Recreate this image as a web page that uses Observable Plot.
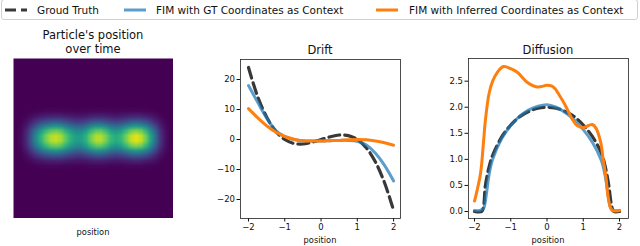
<!DOCTYPE html>
<html>
<head>
<meta charset="utf-8">
<script src="https://cdn.jsdelivr.net/npm/d3@7"></script>
<script src="https://cdn.jsdelivr.net/npm/@observablehq/plot@0.6"></script>
<style>
  html, body { margin: 0; padding: 0; background: #fff; }
  body { width: 640px; height: 246px; position: relative; overflow: hidden; font-family: "DejaVu Sans", sans-serif; color: #111; }
  .abs { position: absolute; }
  .title { font-size: 11.5px; text-align: center; white-space: nowrap; line-height: 13.5px; }
  .xlab { font-size: 8.3px; text-align: center; white-space: nowrap; line-height: 10px; }
  #legend { left: 1px; top: -1px; width: 635px; height: 19px; border: 1px solid #d0d0d0; border-radius: 3px; font-size: 10.5px; }
  .lg { position: absolute; top: 0; line-height: 20px; white-space: nowrap; }
</style>
</head>
<body>
<script>
// ---------- data ----------
const legendLabels = ["Groud Truth", "FIM with GT Coordinates as Context", "FIM with Inferred Coordinates as Context"];
const seriesColors = ["#222222", "#1f77b4", "#ff7f0e"];

// Heatmap (particle's position over time): column and row intensity profiles
const heatCols = [0, 0.03, 0.12, 0.3, 0.52, 0.7, 0.85, 0.95, 0.98, 0.93, 0.8, 0.68, 0.6, 0.6, 0.7, 0.85,
                  0.95, 0.95, 0.85, 0.72, 0.67, 0.72, 0.85, 0.98, 1.03, 0.98, 0.83, 0.6, 0.36, 0.14, 0.04, 0];
const heatRows = [0, 0, 0, 0, 0, 0, 0, 0, 0, 0, 0.02, 0.1, 0.28, 0.55, 0.85, 1,
                  1, 0.85, 0.55, 0.28, 0.1, 0.02, 0, 0, 0, 0, 0, 0, 0, 0, 0, 0];

// Drift
const driftX      = [-2, -1.75, -1.5, -1.25, -1, -0.75, -0.5, -0.25, 0, 0.25, 0.5, 0.75, 1, 1.25, 1.5, 1.75, 2];
const driftGT     = [24, 14.4, 7.5, 2.8, 0, -1.3, -1.5, -0.9, 0, 0.9, 1.5, 1.3, 0, -2.8, -7.5, -14.4, -23.6];
const driftBlue   = [18, 12.5, 7.2, 3.0, 1.0, 0.0, -0.4, -0.5, -0.5, -0.4, -0.3, -0.3, -0.6, -1.8, -4.6, -8.6, -13.8];
const driftOrange = [10.3, 7.3, 4.6, 2.5, 1.0, 0.1, -0.4, -0.5, -0.5, -0.4, -0.3, -0.1, 0.0, -0.1, -0.5, -1.1, -1.9];
const driftTicksX = [-2, -1, 0, 1, 2];
const driftTicksY = [-20, -10, 0, 10, 20];

// Diffusion
const diffGTx     = [-2, -1.8, -1.75, -1.7, -1.6, -1.5, -1.25, -1, -0.75, -0.5, -0.25, 0, 0.25, 0.5, 0.75, 1, 1.25, 1.5, 1.6, 1.7, 1.78, 1.84, 2];
const diffGT      = [0, 0, 0.1, 0.5, 0.85, 1.08, 1.43, 1.66, 1.82, 1.92, 1.98, 2.0, 1.98, 1.92, 1.82, 1.66, 1.44, 1.12, 0.88, 0.52, 0.12, 0, 0];
const diffBluex   = [-2, -1.85, -1.75, -1.68, -1.6, -1.5, -1.25, -1, -0.75, -0.5, -0.25, 0, 0.25, 0.5, 0.75, 1, 1.25, 1.5, 1.6, 1.7, 1.75, 1.85, 2];
const diffBlue    = [0.02, 0.02, 0.06, 0.3, 0.7, 1.0, 1.4, 1.65, 1.83, 1.95, 2.02, 2.05, 2.0, 1.9, 1.76, 1.57, 1.33, 0.98, 0.7, 0.25, 0.08, 0.02, 0.02];
const diffOrangex = [-2, -1.93, -1.83, -1.75, -1.7, -1.6, -1.5, -1.37, -1.2, -1.0, -0.82, -0.55, -0.27, 0, 0.12, 0.23, 0.35, 0.51, 0.69, 0.83, 1.0, 1.15, 1.25, 1.35, 1.48, 1.55, 1.62, 1.71, 1.8, 2];
const diffOrange  = [0.2, 0.4, 0.75, 1.35, 1.75, 2.26, 2.5, 2.67, 2.78, 2.74, 2.67, 2.48, 2.39, 2.42, 2.41, 2.35, 2.22, 2.03, 1.78, 1.65, 1.61, 1.65, 1.67, 1.6, 1.33, 1.0, 0.69, 0.18, 0.02, 0.02];
const diffTicksX = [-2, -1, 0, 1, 2];
const diffTicksY = [0, 0.5, 1.0, 1.5, 2.0, 2.5];

// ---------- helpers ----------
const minus = d => (d < 0 ? "\u2212" + Math.abs(d) : String(d));
const zip = (xs, ys) => xs.map((x, i) => ({x, y: ys[i]}));
function place(el, left, top) {
  el.classList.add("abs");
  el.style.left = left + "px";
  el.style.top = top + "px";
  document.body.appendChild(el);
}
function div(cls, text, left, top, width) {
  const d = document.createElement("div");
  d.className = cls + " abs";
  d.innerHTML = text;
  d.style.left = left + "px";
  d.style.top = top + "px";
  if (width) d.style.width = width + "px";
  document.body.appendChild(d);
  return d;
}
const lineStyles = [
  {stroke: seriesColors[0], strokeWidth: 3.2, strokeDasharray: "11,5", strokeOpacity: 0.9},
  {stroke: seriesColors[1], strokeWidth: 3, strokeOpacity: 0.72},
  {stroke: seriesColors[2], strokeWidth: 3}
];

// ---------- legend ----------
const legend = document.createElement("div");
legend.id = "legend";
legend.className = "abs";
document.body.appendChild(legend);
const sampleX = [3, 122, 374];
const textX = [35, 154, 407];
legendLabels.forEach((lab, i) => {
  const s = document.createElementNS("http://www.w3.org/2000/svg", "svg");
  s.setAttribute("width", 22); s.setAttribute("height", 20);
  s.style.position = "absolute"; s.style.left = sampleX[i] + "px"; s.style.top = "0px";
  const l = document.createElementNS("http://www.w3.org/2000/svg", "line");
  l.setAttribute("x1", 0); l.setAttribute("x2", 22); l.setAttribute("y1", 10); l.setAttribute("y2", 10);
  l.setAttribute("stroke", lineStyles[i].stroke);
  l.setAttribute("stroke-width", 3);
  if (lineStyles[i].strokeOpacity) l.setAttribute("stroke-opacity", lineStyles[i].strokeOpacity);
  if (lineStyles[i].strokeDasharray) l.setAttribute("stroke-dasharray", lineStyles[i].strokeDasharray);
  s.appendChild(l);
  legend.appendChild(s);
  const t = document.createElement("div");
  t.className = "lg"; t.style.left = textX[i] + "px"; t.textContent = lab;
  legend.appendChild(t);
});

// ---------- heatmap ----------
const heatValues = [];
heatRows.forEach(r => heatCols.forEach(c => heatValues.push(c * r)));
const heat = Plot.plot({
  width: 160, height: 160, margin: 0,
  x: {domain: [0, heatCols.length], axis: null},
  y: {domain: [0, heatRows.length], axis: null},
  color: {scheme: "viridis", domain: [0, 1.08]},
  marks: [
    Plot.raster(heatValues, {width: heatCols.length, height: heatRows.length,
      x1: 0, y1: 0, x2: heatCols.length, y2: heatRows.length, fill: d => d})
  ]
});
place(heat, 13, 58);
div("title", "Particle's position<br>over time", 13, 29, 160);
div("xlab", "position", 43, 227, 100);

// ---------- line panels ----------
function panel({left, top, width, height, mL, mR, mT, mB, xDomain, yDomain, xTicks, yTicks, yFmt, series}) {
  const p = Plot.plot({
    width, height, marginLeft: mL, marginRight: mR, marginTop: mT, marginBottom: mB,
    style: {fontFamily: "DejaVu Sans, sans-serif", fontSize: "8.5px", color: "#111", background: "transparent"},
    x: {domain: xDomain},
    y: {domain: yDomain},
    marks: [
      Plot.axisX({ticks: xTicks, tickFormat: minus, tickSize: 3.5, tickPadding: 2, label: null}),
      Plot.axisY({ticks: yTicks, tickFormat: yFmt, tickSize: 3.5, tickPadding: 2, label: null}),
      ...series.map((s, i) => Plot.line(s, {x: "x", y: "y", curve: "catmull-rom", ...lineStyles[i]})),
      Plot.frame({stroke: "#222", strokeWidth: 0.8})
    ]
  });
  place(p, left, top);
}

panel({
  left: 195, top: 40, width: 210, height: 206, mL: 45, mR: 5, mT: 19, mB: 28,
  xDomain: [-2.22, 2.19], yDomain: [-26.33, 26.67],
  xTicks: driftTicksX, yTicks: driftTicksY, yFmt: minus,
  series: [zip(driftX, driftGT), zip(driftX, driftBlue), zip(driftX, driftOrange)]
});
div("title", "Drift", 270, 44, 100);
div("xlab", "position", 270, 235, 100);

panel({
  left: 423, top: 40, width: 210, height: 206, mL: 45, mR: 5, mT: 18, mB: 28,
  xDomain: [-2.166, 2.248], yDomain: [-0.134, 2.935],
  xTicks: diffTicksX, yTicks: diffTicksY, yFmt: d3.format(".1f"),
  series: [zip(diffGTx, diffGT), zip(diffBluex, diffBlue), zip(diffOrangex, diffOrange)]
});
div("title", "Diffusion", 498, 44, 100);
div("xlab", "position", 498, 235, 100);
</script>
</body>
</html>
